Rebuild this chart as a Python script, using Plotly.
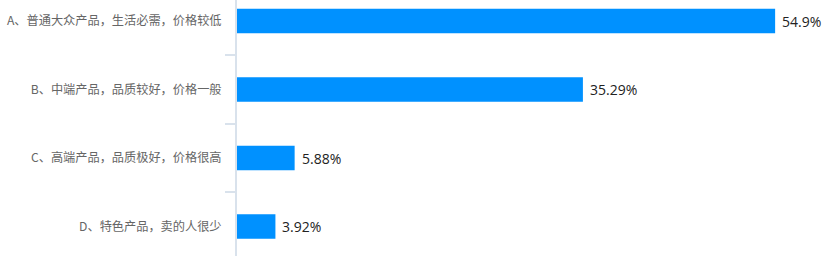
import plotly.graph_objects as go

categories = [
    "A、普通大众产品，生活必需，价格较低",
    "B、中端产品，品质较好，价格一般",
    "C、高端产品，品质极好，价格很高",
    "D、特色产品，卖的人很少",
]
values = [54.9, 35.29, 5.88, 3.92]
value_labels = ["54.9%", "35.29%", "5.88%", "3.92%"]

fig = go.Figure(
    go.Bar(
        x=values,
        y=categories,
        orientation="h",
        marker=dict(color="#0091ff", line=dict(width=0)),
        width=0.36,
        hoverinfo="x+y",
    )
)

for cat, val, lab in zip(categories, values, value_labels):
    fig.add_annotation(
        x=val,
        y=cat,
        text=lab,
        showarrow=False,
        xanchor="left",
        yanchor="middle",
        xshift=5,
        font=dict(family="Open Sans, Noto Sans, sans-serif", size=14, color="#222222"),
    )

fig.update_layout(
    width=831,
    height=256,
    margin=dict(l=237, r=0, t=0, b=0),
    paper_bgcolor="white",
    plot_bgcolor="white",
    showlegend=False,
    xaxis=dict(
        range=[0, 60.6],
        visible=False,
        showgrid=False,
        zeroline=False,
    ),
    yaxis=dict(
        type="category",
        range=[3.43, -0.307],
        showline=True,
        linecolor="#d9e2ec",
        linewidth=2,
        ticks="outside",
        tickson="boundaries",
        ticklen=10,
        tickcolor="#d9e2ec",
        tickwidth=1.5,
        ticklabelstandoff=11,
        showgrid=False,
        zeroline=False,
        tickfont=dict(family="Noto Sans CJK SC, sans-serif", size=12.2, color="#666666"),
    ),
)

fig.write_html("out.html")
